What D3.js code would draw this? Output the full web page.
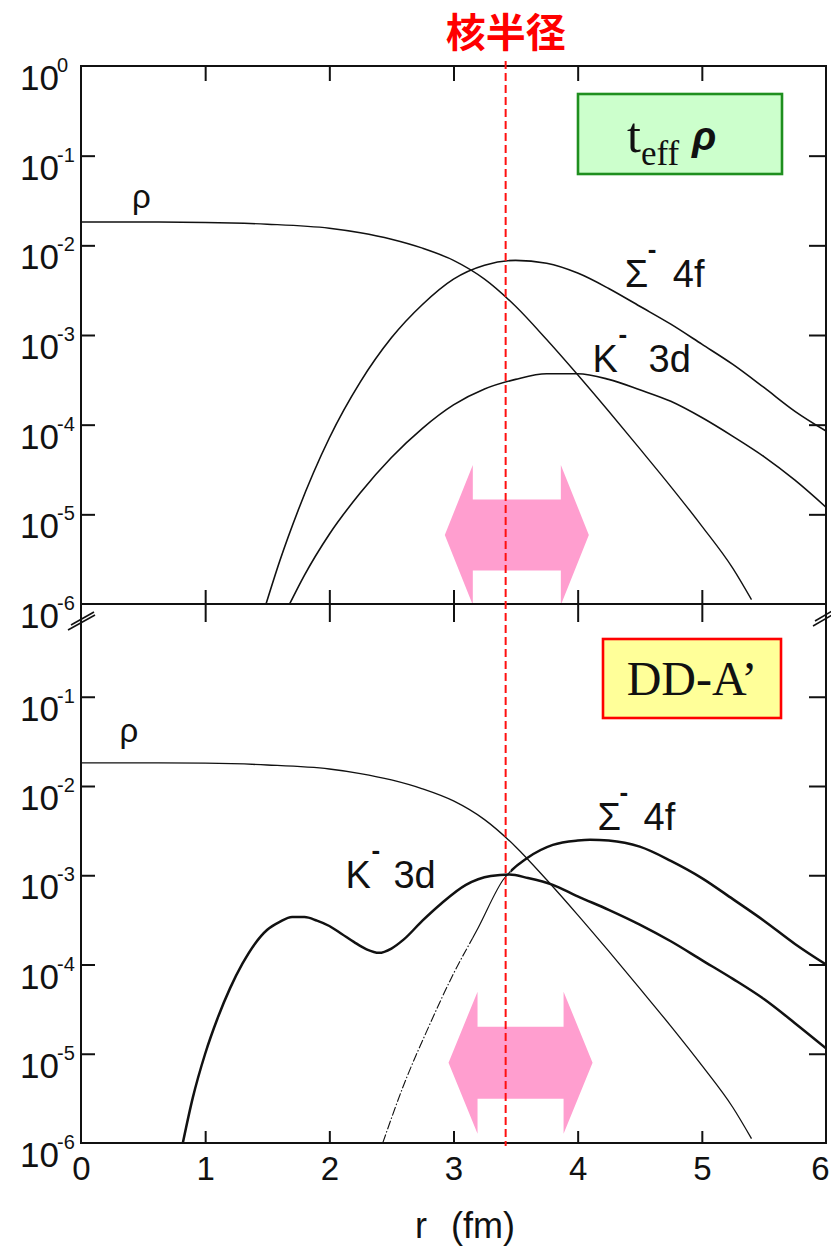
<!DOCTYPE html>
<html>
<head>
<meta charset="utf-8">
<script src="https://cdn.jsdelivr.net/npm/d3@7"></script>
<style>
  html, body { margin: 0; padding: 0; background: #fff; }
  svg { display: block; }
  text { fill: #111; }
</style>
</head>
<body>
<svg id="chart" width="831" height="1250"></svg>
<script>
// ---- data: radial distance r (fm) and densities (fm^-3) ----
// nuclear density, same in both panels
const rhoR = [0, 0.5, 1.0, 1.5, 2.0, 2.25, 2.5, 2.75, 3.0, 3.25, 3.5, 3.75, 4.0, 4.25, 4.5, 4.75, 5.0, 5.25, 5.4];
const rhoV = [1.82e-2, 1.82e-2, 1.80e-2, 1.72e-2, 1.55e-2, 1.38e-2, 1.17e-2, 9.3e-3, 6.8e-3, 4.2e-3, 2.09e-3, 8.9e-4, 3.6e-4, 1.41e-4, 5.4e-5, 2.04e-5, 7.4e-6, 2.5e-6, 1.12e-6];

// t_eff rho potential
const sigTopR = [1.49, 1.6, 1.75, 2.0, 2.25, 2.5, 2.75, 3.0, 3.25, 3.5, 3.75, 4.0, 4.25, 4.5, 4.75, 5.0, 5.25, 5.5, 5.75, 6.0];
const sigTopV = [1.0e-6, 3.0e-6, 1.12e-5, 7.1e-5, 3.0e-4, 9.3e-4, 2.19e-3, 4.2e-3, 6.0e-3, 6.8e-3, 6.3e-3, 4.9e-3, 3.3e-3, 2.09e-3, 1.32e-3, 7.9e-4, 4.7e-4, 2.6e-4, 1.41e-4, 8.5e-5];
const kTopR = [1.68, 1.8, 2.0, 2.25, 2.5, 2.75, 3.0, 3.25, 3.5, 3.75, 4.0, 4.25, 4.5, 4.75, 5.0, 5.25, 5.5, 5.75, 6.0];
const kTopV = [1.0e-6, 2.1e-6, 6.0e-6, 1.74e-5, 4.3e-5, 9.1e-5, 1.66e-4, 2.5e-4, 3.2e-4, 3.7e-4, 3.7e-4, 3.2e-4, 2.45e-4, 1.82e-4, 1.2e-4, 7.4e-5, 4.4e-5, 2.4e-5, 1.2e-5];

// DD-A' potential
const kBotR = [0.82, 0.9, 1.0, 1.1, 1.2, 1.3, 1.4, 1.5, 1.6, 1.7, 1.8, 1.9, 2.0, 2.1, 2.2, 2.3, 2.4, 2.5, 2.6, 2.75, 2.9, 3.1, 3.3, 3.45, 3.6, 3.8, 4.0, 4.25, 4.5, 4.75, 5.0, 5.25, 5.5, 5.75, 6.0];
const kBotV = [1.0e-6, 3.2e-6, 1.0e-5, 2.5e-5, 5.4e-5, 1.02e-4, 1.7e-4, 2.45e-4, 3.0e-4, 3.4e-4, 3.4e-4, 3.1e-4, 2.7e-4, 2.2e-4, 1.78e-4, 1.48e-4, 1.35e-4, 1.51e-4, 1.91e-4, 3.1e-4, 4.8e-4, 7.8e-4, 9.8e-4, 1.02e-3, 9.3e-4, 7.8e-4, 5.8e-4, 4.1e-4, 2.8e-4, 1.82e-4, 1.12e-4, 6.9e-5, 4.1e-5, 2.2e-5, 1.15e-5];
const sigBotR = [2.43, 2.6, 2.8, 3.0, 3.2, 3.4, 3.6, 3.8, 4.0, 4.1, 4.25, 4.5, 4.75, 5.0, 5.25, 5.5, 5.75, 6.0];
const sigBotV = [1.0e-6, 4.5e-6, 2.0e-5, 7.9e-5, 2.6e-4, 8.9e-4, 1.58e-3, 2.19e-3, 2.45e-3, 2.5e-3, 2.45e-3, 2.09e-3, 1.45e-3, 9.3e-4, 5.4e-4, 3.1e-4, 1.7e-4, 1.0e-4];

// nuclear radius (fm)
const rNuc = 3.42;

// axis ticks
const xTicks = [0, 1, 2, 3, 4, 5, 6];
const topDecadeLabels = [1, 1e-1, 1e-2, 1e-3, 1e-4, 1e-5, 1e-6];
const botDecadeLabels = [1e-1, 1e-2, 1e-3, 1e-4, 1e-5, 1e-6];
const innerDecades = [1e-1, 1e-2, 1e-3, 1e-4, 1e-5];

// ---- layout ----
const SANS = "'Liberation Sans', Arial, sans-serif";
const SERIF = "'Liberation Serif', 'Times New Roman', serif";
const CJK = "'Noto Sans CJK JP', 'Noto Sans CJK SC', sans-serif";
const INK = "#111";

const svg = d3.select("#chart").style("font-family", SANS);
const x = d3.scaleLinear().domain([0, 6]).range([81, 826]);
const yTop = d3.scaleLog().domain([1e-6, 1]).range([604, 66]);
const yBot = d3.scaleLog().domain([1e-6, 1]).range([1143, 607.5]);

const zip = (a, b) => a.map((v, i) => [v, b[i]]);

// clip regions for the two panels
const defs = svg.append("defs");
defs.append("clipPath").attr("id", "clipTop").append("rect")
  .attr("x", x(0)).attr("y", yTop(1)).attr("width", x(6) - x(0)).attr("height", yTop(1e-6) - yTop(1));
defs.append("clipPath").attr("id", "clipBot").append("rect")
  .attr("x", x(0)).attr("y", yTop(1e-6)).attr("width", x(6) - x(0)).attr("height", yBot(1e-6) - yTop(1e-6));
// r-bands for the dashed / thin / thick parts of the lower Sigma curve
function bandClip(id, r0, r1) {
  defs.append("clipPath").attr("id", id).append("rect")
    .attr("x", x(r0)).attr("y", yTop(1e-6)).attr("width", x(r1) - x(r0)).attr("height", yBot(1e-6) - yTop(1e-6));
}
bandClip("sigDash", 0, 3.15);
bandClip("sigThin", 3.15, 3.46);
bandClip("sigThick", 3.46, 6);

// pink double arrows (under the curves)
function doubleArrow(rL, rR, yc, head, half, shaft) {
  const xl = x(rL), xr = x(rR);
  const pts = [
    [xl, yc], [xl + head, yc - half], [xl + head, yc - shaft], [xr - head, yc - shaft],
    [xr - head, yc - half], [xr, yc], [xr - head, yc + half], [xr - head, yc + shaft],
    [xl + head, yc + shaft], [xl + head, yc + half]
  ];
  svg.append("polygon").attr("points", pts.map(p => p.join(",")).join(" "))
    .attr("fill", "#ff9ecf");
}
doubleArrow(2.93, 4.09, yTop(Math.pow(10, -5.23)), 28, 70, 35.5);
doubleArrow(2.96, 4.12, yBot(Math.pow(10, -5.10)), 29, 71, 36);

// curves
const lineTop = d3.line().x(d => x(d[0])).y(d => yTop(d[1])).curve(d3.curveMonotoneX);
const lineBot = d3.line().x(d => x(d[0])).y(d => yBot(d[1])).curve(d3.curveMonotoneX);

const gTop = svg.append("g").attr("clip-path", "url(#clipTop)").attr("fill", "none").attr("stroke", INK);
gTop.append("path").attr("d", lineTop(zip(rhoR, rhoV))).attr("stroke-width", 1.4);
gTop.append("path").attr("d", lineTop(zip(sigTopR, sigTopV))).attr("stroke-width", 1.6);
gTop.append("path").attr("d", lineTop(zip(kTopR, kTopV))).attr("stroke-width", 1.6);

const gBot = svg.append("g").attr("clip-path", "url(#clipBot)").attr("fill", "none").attr("stroke", INK);
gBot.append("path").attr("d", lineBot(zip(rhoR, rhoV))).attr("stroke-width", 1.3);
gBot.append("path").attr("d", lineBot(zip(kBotR, kBotV))).attr("stroke-width", 2.5);
const sigPath = lineBot(zip(sigBotR, sigBotV));
gBot.append("g").attr("clip-path", "url(#sigDash)").append("path").attr("d", sigPath)
  .attr("stroke-width", 1.1).attr("stroke-dasharray", "9,2,1.5,2");
gBot.append("g").attr("clip-path", "url(#sigThin)").append("path").attr("d", sigPath)
  .attr("stroke-width", 1.2);
gBot.append("g").attr("clip-path", "url(#sigThick)").append("path").attr("d", sigPath)
  .attr("stroke-width", 2.5);

// frame
const frame = svg.append("g").attr("stroke", INK).attr("stroke-width", 2).attr("fill", "none");
frame.append("line").attr("x1", x(0)).attr("x2", x(6)).attr("y1", yTop(1)).attr("y2", yTop(1));
frame.append("line").attr("x1", x(0)).attr("x2", x(6)).attr("y1", yTop(1e-6)).attr("y2", yTop(1e-6));
frame.append("line").attr("x1", x(0)).attr("x2", x(6)).attr("y1", yBot(1e-6)).attr("y2", yBot(1e-6));
frame.append("line").attr("x1", x(0)).attr("x2", x(0)).attr("y1", yTop(1) - 1).attr("y2", yBot(1e-6) + 1);
frame.append("line").attr("x1", x(6)).attr("x2", x(6)).attr("y1", yTop(1) - 1).attr("y2", yBot(1e-6) + 1);

// axis break marks
const brk = svg.append("g").attr("stroke", INK).attr("stroke-width", 1.6);
brk.append("line").attr("x1", x(0) - 13).attr("y1", 630).attr("x2", x(0) + 14).attr("y2", 615);
brk.append("line").attr("x1", x(0) - 10).attr("y1", 625).attr("x2", x(0) + 13).attr("y2", 612);
brk.append("line").attr("x1", x(6) - 13).attr("y1", 626).attr("x2", x(6) + 6).attr("y2", 615);
brk.append("line").attr("x1", x(6) - 11).attr("y1", 621).attr("x2", x(6) + 6).attr("y2", 611);

// tick marks through d3 axes
function ticks(g, axis) {
  g.call(axis);
  g.select(".domain").remove();
  g.selectAll(".tick line").attr("stroke", INK).attr("stroke-width", 2);
  g.selectAll(".tick text").remove();
}
const inner = [1, 2, 3, 4, 5];
svg.append("g").attr("transform", `translate(0,${yTop(1)})`)
  .call(ticks, d3.axisTop(x).tickValues(inner).tickSize(-15));
svg.append("g").attr("transform", `translate(0,${yTop(1e-6)})`)
  .call(ticks, d3.axisBottom(x).tickValues(inner).tickSize(-14));
svg.append("g").attr("transform", `translate(0,${yTop(1e-6)})`)
  .call(ticks, d3.axisTop(x).tickValues(inner).tickSize(-18));
svg.append("g").attr("transform", `translate(${x(0)},0)`)
  .call(ticks, d3.axisLeft(yTop).tickValues(innerDecades).tickSize(-14));
svg.append("g").attr("transform", `translate(${x(0)},0)`)
  .call(ticks, d3.axisLeft(yBot).tickValues(innerDecades).tickSize(-14));
svg.append("g").attr("transform", `translate(${x(6)},0)`)
  .call(ticks, d3.axisRight(yTop).tickValues(innerDecades).tickSize(-17));
svg.append("g").attr("transform", `translate(${x(6)},0)`)
  .call(ticks, d3.axisRight(yBot).tickValues(innerDecades).tickSize(-17));

// bottom x axis with labels
const xAxis = svg.append("g").attr("transform", `translate(0,${yBot(1e-6)})`)
  .call(d3.axisBottom(x).tickValues(xTicks).tickSize(-12).tickPadding(14).tickFormat(d3.format("d")));
xAxis.select(".domain").remove();
xAxis.selectAll(".tick line").attr("stroke", INK).attr("stroke-width", 2)
  .filter(d => d === 0 || d === 6).remove();
xAxis.selectAll(".tick text").attr("font-size", 33).attr("fill", INK)
  .style("font-family", SANS)
  .attr("dx", d => d === 6 ? -6 : 0);

// y tick labels "10^n"
function decadeLabels(vals, y) {
  const g = svg.append("g");
  vals.forEach(v => {
    const e = Math.round(Math.log10(v));
    const yy = y(v);
    g.append("text").attr("x", 59).attr("y", yy + 24).attr("text-anchor", "end")
      .attr("font-size", 35).text("10");
    g.append("text").attr("x", 57).attr("y", yy + 6).attr("font-size", 20).text(String(e));
  });
}
decadeLabels(topDecadeLabels, yTop);
decadeLabels(botDecadeLabels, yBot);

// axis title
const title = svg.append("text").attr("y", 1238).attr("font-size", 36);
title.append("tspan").attr("x", 415).text("r");
title.append("tspan").attr("x", 451).text("(fm)");

// curve labels
function stateLabel(r, v, y, sym, barDx, restDx, rest) {
  const px = x(r), py = y(v);
  svg.append("text").attr("x", px).attr("y", py).attr("font-size", 38).text(sym);
  svg.append("text").attr("x", px + barDx).attr("y", py - 29).attr("font-size", 26)
    .attr("font-weight", "bold").text("-");
  svg.append("text").attr("x", px + restDx).attr("y", py).attr("font-size", 38).text(rest);
}
svg.append("text").attr("x", x(0.41)).attr("y", yTop(2.6e-2)).attr("font-size", 33).text("ρ");
svg.append("text").attr("x", x(0.31)).attr("y", yBot(3.1e-2)).attr("font-size", 33).text("ρ");
stateLabel(4.38, 3.4e-3, yTop, "Σ", 23, 48, "4f");
stateLabel(4.12, 3.9e-4, yTop, "K", 26, 56, "3d");
stateLabel(2.13, 7.2e-4, yBot, "K", 26, 48, "3d");
stateLabel(4.16, 3.2e-3, yBot, "Σ", 22, 46, "4f");

// nuclear radius marker
svg.append("line").attr("x1", x(rNuc)).attr("x2", x(rNuc)).attr("y1", 61).attr("y2", 1146)
  .attr("stroke", "#ff1010").attr("stroke-width", 2).attr("stroke-dasharray", "8,4");
svg.append("text").attr("x", x(rNuc)).attr("y", 47).attr("text-anchor", "middle")
  .style("font-family", CJK).attr("font-weight", 700).attr("font-size", 40)
  .style("fill", "#ff0000").text("核半径");

// model boxes
svg.append("rect").attr("x", 578).attr("y", 94).attr("width", 204).attr("height", 80)
  .attr("fill", "#ccffcc").attr("stroke", "#1f8f1f").attr("stroke-width", 2.6);
const teff = svg.append("text").attr("x", 627).attr("y", 152)
  .style("font-family", SERIF).attr("font-size", 50);
teff.append("tspan").text("t");
teff.append("tspan").attr("font-size", 35).attr("dy", 13).text("eff");
svg.append("text").attr("x", 692).attr("y", 150).attr("font-size", 40)
  .attr("font-weight", "bold").attr("font-style", "italic").text("ρ");

svg.append("rect").attr("x", 603).attr("y", 639).attr("width", 178).attr("height", 79)
  .attr("fill", "#ffff99").attr("stroke", "#ff0000").attr("stroke-width", 2.6);
svg.append("text").attr("x", 692).attr("y", 695).attr("text-anchor", "middle")
  .style("font-family", SERIF).attr("font-size", 48)
  .text("DD-A’");
</script>
</body>
</html>
